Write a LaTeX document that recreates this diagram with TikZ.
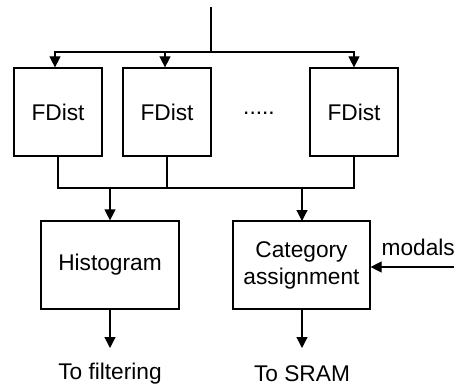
\documentclass[tikz,border=0pt]{standalone}
\usepackage{fontspec}
\setmainfont{Liberation Sans}
\usetikzlibrary{arrows.meta,calc}
\begin{document}
\begin{tikzpicture}[x=1pt,y=-1pt,
  line width=1.2pt,
  font=\fontsize{22.7}{27}\selectfont,
  block/.style={draw, inner sep=0pt, align=center},
  arr/.style={-{Triangle[length=11pt,width=11pt]}},
  lbl/.style={inner sep=0pt, anchor=base}]
  \useasboundingbox (0,0) rectangle (462,387);

  % distance units
  \node[block, minimum width=88pt, minimum height=88pt] (f1) at (58,112) {FDist};
  \node[block, minimum width=88pt, minimum height=88pt] (f2) at (167,112) {FDist};
  \node[block, minimum width=88pt, minimum height=88pt] (f3) at (354,112) {FDist};
  \node[lbl] (dots) at (259,115) {.....};

  % processing units
  \node[block, minimum width=138pt, minimum height=88pt] (hist) at (110,265) {Histogram};
  \node[block, minimum width=137pt, minimum height=88pt] (cat) at (301.5,265) {Category\\assignment};

  % input fan-out
  \coordinate (in) at (211,7);
  \coordinate (split) at (211,52);
  \draw (in) -- (split);
  \draw[arr] (split) -| ($(f1.north)+(-3,0)$);
  \draw[arr] (split) -| ($(f2.north)+(-2,0)$);
  \draw[arr] (split) -| (f3.north);

  % collecting bus
  \coordinate (busl) at (58,188);
  \coordinate (busr) at (354,188);
  \draw (f1.south) -- (busl) -- (busr) -- (f3.south);
  \draw (f2.south) -- (f2.south |- busl);
  \draw[arr] (hist.north |- busl) -- (hist.north);
  \draw[arr] (302,188) -- (302,221);

  % side input
  \node[lbl, anchor=west] (modals) at (381,247) {modals};
  \coordinate (mods) at (454,267);
  \draw[arr] (mods) -- (cat.east |- mods);

  % outputs
  \coordinate (ho) at (110,348);
  \coordinate (co) at (302,348);
  \draw[arr] (hist.south) -- (ho);
  \draw[arr] (cat.south -| co) -- (co);
  \node[lbl] (tofilt) at (110,379) {To filtering};
  \node[lbl] (tosram) at (302,381.5) {To SRAM};
\end{tikzpicture}
\end{document}
